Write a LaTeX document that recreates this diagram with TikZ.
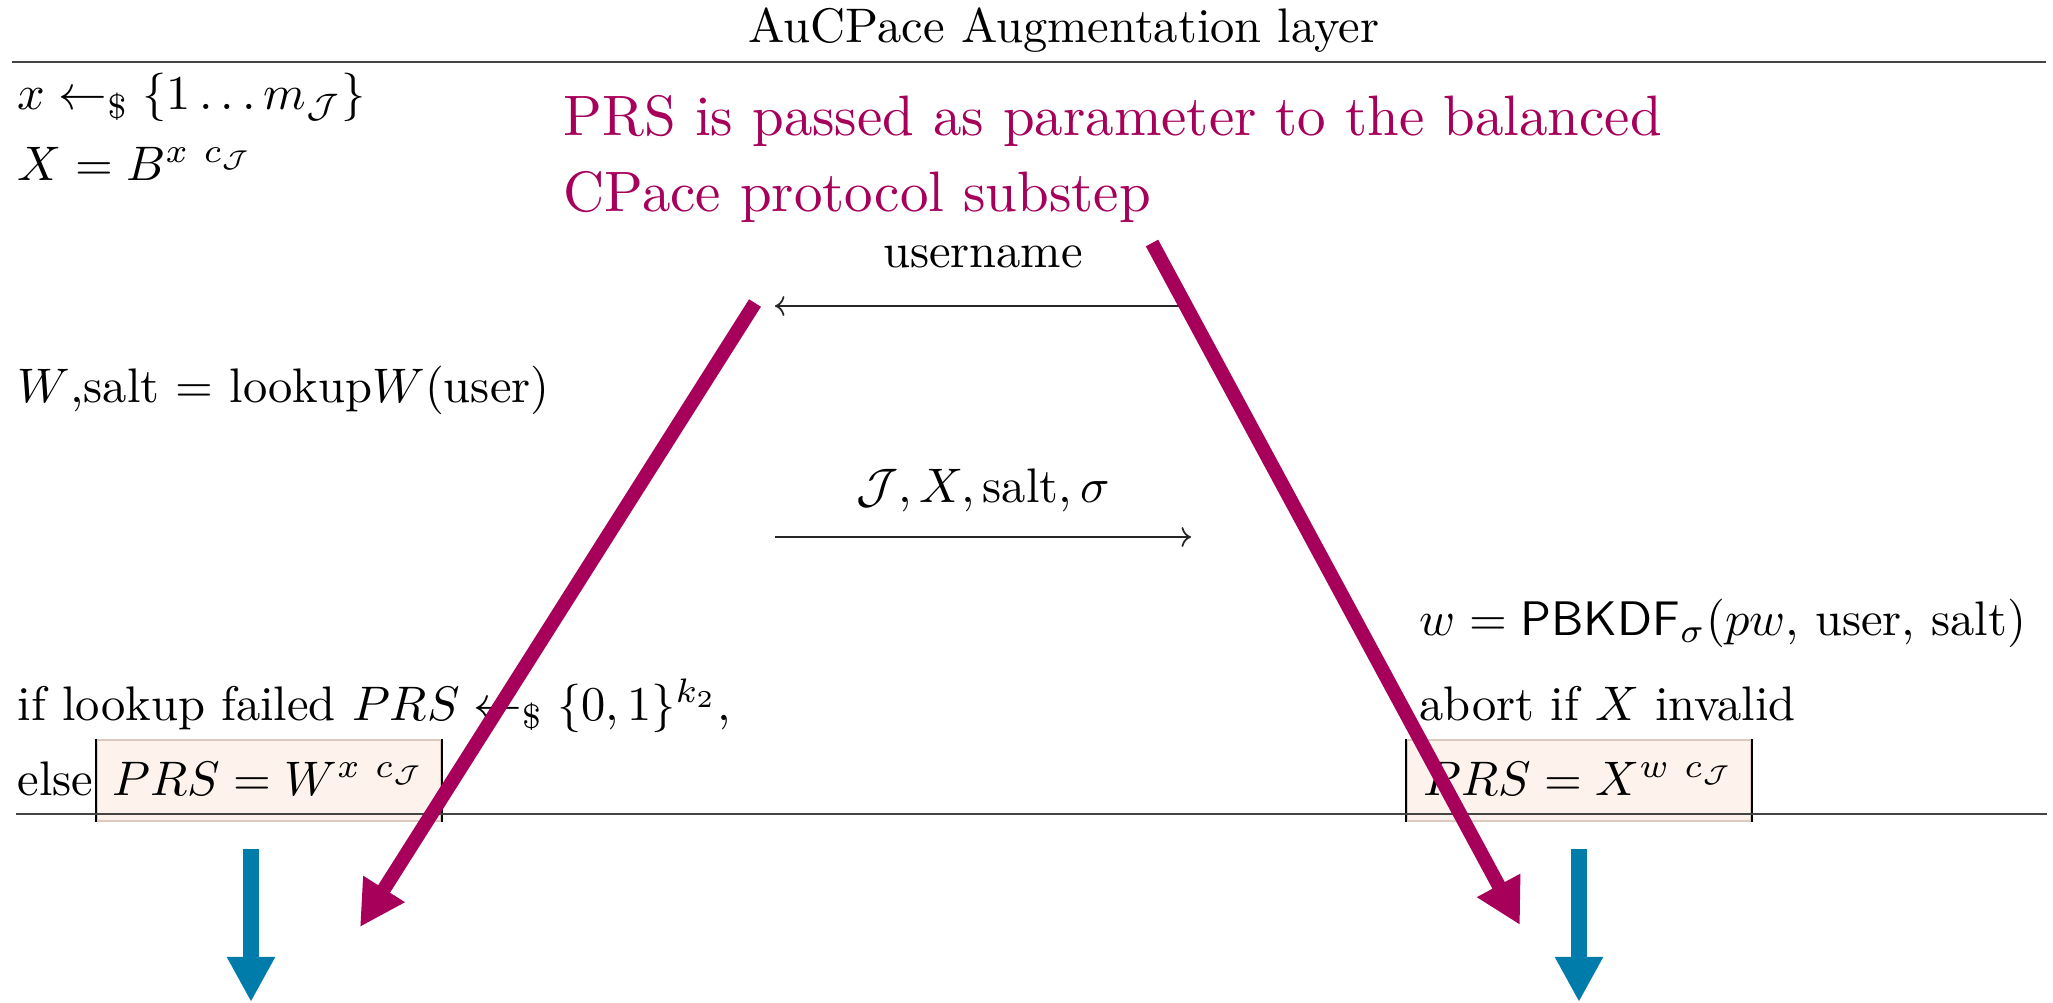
\documentclass[tikz,border=0pt]{standalone}
\usepackage{fontspec}
\usepackage{amsmath}
\usepackage{graphicx}
\usetikzlibrary{arrows.meta}

% text is set at 10pt and blown up, as in the zoomed slide
\newcommand{\zt}[1]{\scalebox{1.38}{#1}}
\newcommand{\zn}[1]{\scalebox{1.62}{#1}}

\definecolor{notemagenta}{HTML}{A6005B}
\definecolor{flowblue}{HTML}{007CAA}
\definecolor{boxfill}{HTML}{FDF3EC}
\definecolor{boxedge}{HTML}{DCCAC0}
\definecolor{rulegray}{HTML}{444444}

\tikzset{
  txt/.style={inner sep=0pt, anchor=base west, font=\fontsize{10}{12}\selectfont},
  msg/.style={txt, anchor=base},
  prsbox/.style={txt, anchor=base, fill=boxfill, draw=boxedge, line width=0.5pt,
    minimum width=3.44cm, text height=0.55cm, text depth=0.26cm},
  boxside/.style={black, line width=0.6pt},
  hrule/.style={rulegray, line width=0.6pt},
  msgarrow/.style={->, black!85, line width=0.5pt},
  annot/.style={txt, text=notemagenta},
  notearrow/.style={notemagenta, line width=0.14cm,
    -{Triangle[length=0.45cm, width=0.46cm]}},
  flowarrow/.style={flowblue, line width=0.16cm,
    -{Triangle[length=0.45cm, width=0.45cm]}}
}

\begin{document}
\begin{tikzpicture}[x=0.01cm, y=-0.01cm]

    \useasboundingbox (0,0) rectangle (2053,1003);

    % Layer title and rules
    \node[msg] (title) at (1064,43) {\zt{AuCPace Augmentation layer}};
    \draw[hrule] (12,62) -- (2046,62);

    % Client side
    \node[txt] (xsample) at (17,110) {\zt{$x \leftarrow_{\$} \{1 \ldots m_{\mathcal{J}}\}$}};
    \node[txt] (xcalc) at (17,180) {\zt{$X = B^{x\ c_{\mathcal{J}}}$}};
    \node[txt] (lookup) at (17,402) {\zt{$W$,salt $=$ lookup$W($user$)$}};
    \node[txt] (failed) at (17,720) {\zt{if lookup failed $PRS \leftarrow_{\$} \{0,1\}^{k_2}$,}};
    \node[txt] (else) at (17,795) {\zt{else}};
    \node[prsbox] (prsA) at (269,795) {\zt{$PRS = W^{x\ c_{\mathcal{J}}}$}};
    \draw[boxside] (prsA.north west) -- (prsA.south west);
    \draw[boxside] (prsA.north east) -- (prsA.south east);

    % Server side
    \node[txt] (pbkdf) at (1419,635) {\zt{$w = \mathsf{PBKDF}_{\sigma}(pw,$ user, salt$)$}};
    \node[txt] (abort) at (1419,720) {\zt{abort if $X$ invalid}};
    \node[prsbox] (prsB) at (1579,795) {\zt{$PRS = X^{w\ c_{\mathcal{J}}}$}};
    \draw[boxside] (prsB.north west) -- (prsB.south west);
    \draw[boxside] (prsB.north east) -- (prsB.south east);

    \draw[hrule] (16,814) -- (2047,814);

    % Messages
    \node[msg] (user) at (983,268) {\zt{username}};
    \coordinate (userFrom) at (1190,306);
    \coordinate (userTo) at (775,306);
    \draw[msgarrow] (userFrom) -- (userTo);

    \node[msg] (reply) at (983,502) {\zt{$\mathcal{J}, X, \mathrm{salt}, \sigma$}};
    \coordinate (replyFrom) at (775,537);
    \coordinate (replyTo) at (1191,537);
    \draw[msgarrow] (replyFrom) -- (replyTo);

    % Outputs
    \coordinate (outA) at (251,849);
    \coordinate (outAEnd) at (251,1002);
    \coordinate (outB) at (1579,849);
    \coordinate (outBEnd) at (1579,1002);
    \draw[flowarrow] (outA) -- (outAEnd);
    \draw[flowarrow] (outB) -- (outBEnd);

    % Annotation
    \node[annot] (noteA) at (563,135) {\zn{PRS is passed as parameter to the balanced}};
    \node[annot] (noteB) at (563,212) {\zn{CPace protocol substep}};
    \coordinate (noteL) at (755,303);
    \coordinate (noteLEnd) at (360,927);
    \coordinate (noteR) at (1152,243);
    \coordinate (noteREnd) at (1520,925);
    \draw[notearrow] (noteL) -- (noteLEnd);
    \draw[notearrow] (noteR) -- (noteREnd);

\end{tikzpicture}
\end{document}
